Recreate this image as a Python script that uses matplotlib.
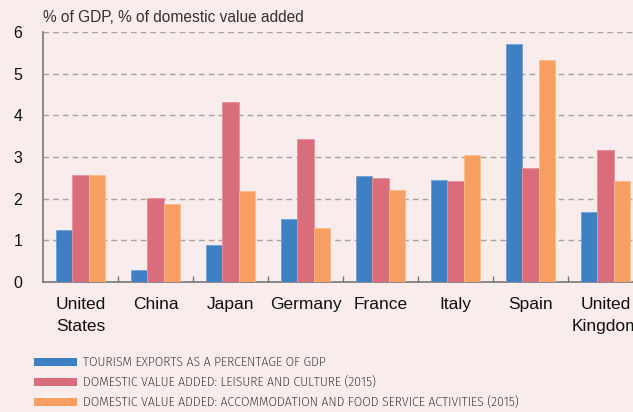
import matplotlib
matplotlib.use("Agg")
import matplotlib.pyplot as plt
import numpy as np
from matplotlib.patches import Rectangle
from matplotlib import font_manager

categories = ["United\nStates", "China", "Japan", "Germany", "France", "Italy", "Spain", "United\nKingdom"]
tourism_exports = [1.25, 0.29, 0.89, 1.52, 2.54, 2.46, 5.72, 1.69]
leisure_culture = [2.58, 2.02, 4.33, 3.44, 2.50, 2.43, 2.73, 3.16]
accommodation_food = [2.56, 1.87, 2.18, 1.29, 2.21, 3.05, 5.32, 2.43]
series_labels = ["TOURISM EXPORTS AS A PERCENTAGE OF GDP",
                 "DOMESTIC VALUE ADDED: LEISURE AND CULTURE (2015)",
                 "DOMESTIC VALUE ADDED: ACCOMMODATION AND FOOD SERVICE ACTIVITIES (2015)"]
colors = ["#3f7fc3", "#d96d7c", "#f79e62"]
edge_colors = ["#6f9fd6", "#e8909b", "#fbbc8c"]
yticks = [0, 1, 2, 3, 4, 5, 6]
title = "% of GDP, % of domestic value added"

# find a condensed font file if any
cond_path = None
for f in font_manager.findSystemFonts():
    n = f.lower()
    if ("condensed" in n or "narrow" in n) and "bold" not in n and "italic" not in n and "oblique" not in n:
        if "sans" in n or "roboto" in n:
            cond_path = f
            break
if cond_path:
    legend_font = font_manager.FontProperties(fname=cond_path, size=9.8)
else:
    legend_font = font_manager.FontProperties(family="DejaVu Sans", size=8)

bg = "#f8ecec"
W, H = 633, 412
fig = plt.figure(figsize=(W / 100, H / 100), dpi=100, facecolor=bg)
ax = fig.add_axes([43 / W, (H - 282) / H, 600 / W, 250 / H])
ax.set_facecolor(bg)

x = np.arange(len(categories))
bw = 0.22
for i, vals in enumerate([tourism_exports, leisure_culture, accommodation_food]):
    ax.bar(x + (i - 1) * bw, vals, width=bw, color=colors[i], edgecolor=edge_colors[i],
           linewidth=0.6, zorder=3)

ax.set_xlim(-0.5, len(categories) - 0.5)
ax.set_ylim(0, 6)
ax.set_yticks(yticks)
ax.set_yticklabels([str(t) for t in yticks], fontsize=11.5, family="Liberation Sans", color="#111111")
for t in yticks[1:]:
    ax.axhline(t, color="#a8a2a2", linestyle=(0, (4, 3)), linewidth=1.0, zorder=1)

ax.set_xticks(x)
ax.set_xticklabels(categories, fontsize=12.5, family="Liberation Sans", color="#111111", linespacing=1.55)
ax.tick_params(axis="x", length=0, pad=11)
ax.tick_params(axis="y", length=0, pad=15)
ax.set_xticks(np.arange(0.5, len(categories) - 0.5, 1), minor=True)
ax.tick_params(axis="x", which="minor", direction="in", length=4, color="#777777", width=1)

for s in ["top", "right"]:
    ax.spines[s].set_visible(False)
for s in ["left", "bottom"]:
    ax.spines[s].set_color("#777777")
    ax.spines[s].set_linewidth(1.2)

fig.text(43 / W, 1 - 17 / H, title, fontsize=11.2, family="Liberation Sans", color="#333333",
         va="center", ha="left")

for i, lab in enumerate(series_labels):
    yc = 362 + 20 * i
    fig.patches.append(Rectangle((34 / W, 1 - (yc + 4) / H), 43 / W, 8 / H,
                                 transform=fig.transFigure, facecolor=colors[i],
                                 edgecolor="none"))
    fig.text(83 / W, 1 - yc / H, lab, fontproperties=legend_font,
             color="#222222", va="center", ha="left")

fig.savefig("out.png", dpi=100, facecolor=bg)
